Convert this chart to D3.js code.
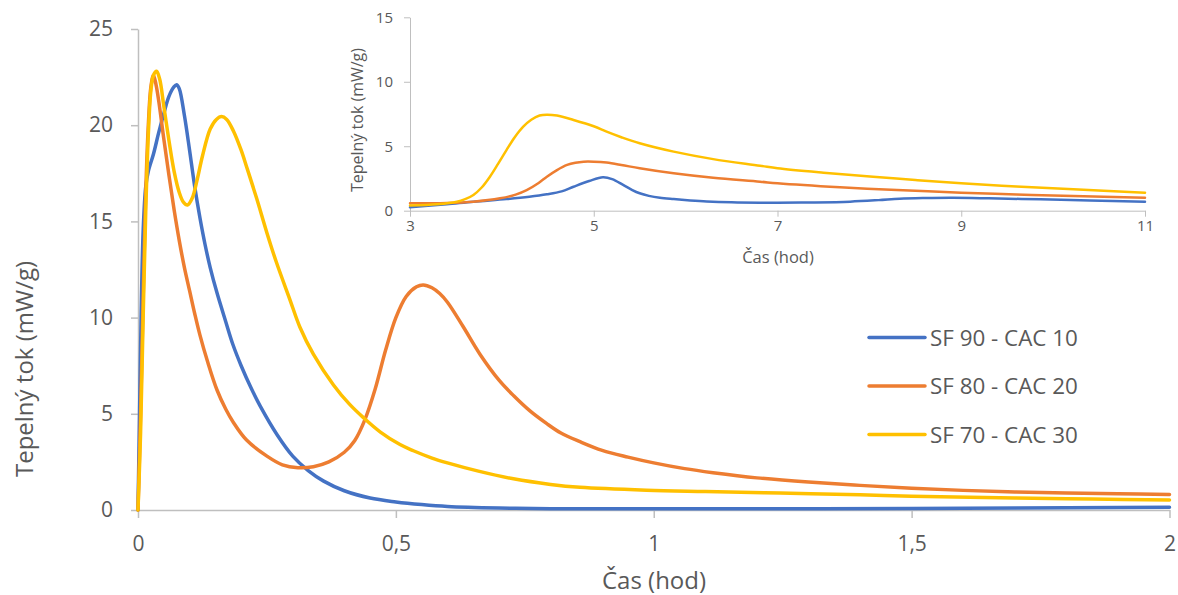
<!DOCTYPE html>
<html><head><meta charset="utf-8">
<script src="https://cdn.jsdelivr.net/npm/d3@7"></script>
<style>body{margin:0;background:#fff;} svg{display:block;font-family:"Open Sans","Noto Sans",sans-serif;}</style>
</head><body><svg id="c" width="1178" height="595"></svg>
<script>
const seriesNames = ["SF 90 - CAC 10", "SF 80 - CAC 20", "SF 70 - CAC 30"];
const colors = ["#4472C4", "#ED7D31", "#FFC000"];

// main chart: time (h) and heat flow (mW/g)
const blueT  = [0,0.003,0.006,0.01,0.015,0.02,0.03,0.04,0.05,0.06,0.07,0.075,0.08,0.09,0.1,0.11,0.12,0.13,0.14,0.153,0.17,0.184,0.2,0.22,0.237,0.27,0.3,0.33,0.36,0.4,0.45,0.5,0.55,0.6,0.7,0.8,1.0,1.5,2.0];
const blueV  = [0,5,10,14.5,16.8,17.6,18.5,19.6,20.6,21.5,22.0,22.1,21.9,20.5,18.7,16.8,15.2,13.8,12.6,11.3,9.8,8.6,7.5,6.3,5.4,3.9,2.8,2.05,1.5,1.0,0.62,0.42,0.28,0.18,0.1,0.07,0.06,0.08,0.14];
const orangeT = [0,0.005,0.01,0.015,0.02,0.025,0.03,0.035,0.04,0.05,0.06,0.07,0.08,0.09,0.1,0.11,0.12,0.135,0.153,0.17,0.185,0.21,0.25,0.28,0.31,0.34,0.37,0.4,0.42,0.44,0.46,0.48,0.5,0.52,0.54,0.553,0.57,0.585,0.6,0.63,0.663,0.7,0.728,0.76,0.792,0.82,0.857,0.9,0.95,1.0,1.06,1.115,1.2,1.3,1.4,1.5,1.6,1.7,1.8,1.9,2.0];
const orangeV = [0,5,11,16.5,20,22,22.6,22.1,21.3,19.3,17.4,15.6,14.0,12.6,11.4,10.2,9.1,7.7,6.25,5.25,4.55,3.65,2.8,2.35,2.2,2.25,2.5,3.0,3.6,4.7,6.3,8.3,10.0,11.1,11.6,11.7,11.55,11.25,10.8,9.55,8.1,6.75,5.95,5.15,4.5,4.0,3.55,3.1,2.75,2.45,2.15,1.94,1.67,1.45,1.28,1.13,1.02,0.94,0.88,0.84,0.81];
const yellowT = [0,0.005,0.01,0.015,0.02,0.025,0.03,0.036,0.042,0.05,0.06,0.07,0.08,0.088,0.096,0.105,0.115,0.125,0.14,0.152,0.162,0.172,0.185,0.2,0.211,0.23,0.25,0.268,0.295,0.314,0.34,0.379,0.41,0.437,0.47,0.508,0.534,0.57,0.6,0.66,0.728,0.8,0.857,0.986,1.1,1.245,1.4,1.5,1.7,1.85,2.0];
const yellowV = [0,4,10,15.5,19.5,21.8,22.6,22.8,22.4,21.0,19.2,17.6,16.5,16.0,15.85,16.2,17.2,18.4,19.8,20.3,20.45,20.3,19.7,18.7,17.8,16.2,14.4,12.9,10.9,9.5,8.1,6.5,5.5,4.8,4.05,3.4,3.08,2.7,2.45,2.02,1.62,1.33,1.18,1.03,0.96,0.88,0.79,0.72,0.63,0.57,0.52];

const xTicks = [0, 0.5, 1, 1.5, 2];
const xTickLabels = ["0", "0,5", "1", "1,5", "2"];
const yTicks = [0, 5, 10, 15, 20, 25];

// inset chart: 3 - 11 h
const insetBlueT = [3,3.4,3.69,4.05,4.3,4.49,4.65,4.78,4.95,5.1,5.2,5.32,5.42,5.5,5.6,5.72,5.87,6.05,6.23,6.5,6.81,7.0,7.4,7.79,8.1,8.33,8.6,8.91,9.3,9.86,10.4,11];
const insetBlueV = [0.26,0.5,0.7,0.9,1.08,1.27,1.5,1.86,2.3,2.59,2.45,2.0,1.6,1.35,1.15,1.0,0.9,0.8,0.72,0.65,0.62,0.62,0.64,0.7,0.82,0.93,0.98,1.0,0.96,0.88,0.8,0.7];
const insetOrangeT = [3,3.4,3.69,3.98,4.15,4.27,4.4,4.49,4.6,4.71,4.8,4.89,5.0,5.14,5.3,5.5,5.87,6.3,6.81,7.0,7.68,8.3,9.0,9.6,10.22,11];
const insetOrangeV = [0.57,0.6,0.7,0.96,1.25,1.6,2.15,2.64,3.15,3.55,3.72,3.8,3.8,3.73,3.55,3.29,2.9,2.55,2.25,2.12,1.81,1.6,1.4,1.26,1.14,1.0];
const insetYellowT = [3,3.3,3.51,3.6,3.69,3.78,3.87,3.96,4.05,4.14,4.23,4.32,4.41,4.49,4.6,4.78,5.0,5.14,5.3,5.5,5.87,6.3,6.81,7.0,7.5,8.04,8.5,9.0,9.6,10.22,11];
const insetYellowV = [0.4,0.5,0.7,0.9,1.22,1.8,2.64,3.65,4.7,5.7,6.5,7.05,7.38,7.45,7.38,7.04,6.55,6.13,5.7,5.23,4.58,4.0,3.49,3.29,2.95,2.64,2.38,2.12,1.88,1.66,1.4];

const insetXTicks = [3, 5, 7, 9, 11];
const insetYTicks = [0, 5, 10, 15];

const svg = d3.select("#c");
const axisColor = "#BFBFBF", textColor = "#595959";
const font = '"Open Sans","Noto Sans",sans-serif';

function zip(t, v){ return t.map((d,i)=>[d, v[i]]); }

// ---------- main chart ----------
const x = d3.scaleLinear().domain([0, 2]).range([138, 1169.5]);
const y = d3.scaleLinear().domain([0, 25]).range([510, 29]);

const gx = svg.append("g").attr("transform", `translate(0,${y(0)})`)
  .call(d3.axisBottom(x).tickValues(xTicks).tickFormat((d,i)=>xTickLabels[i]).tickSize(8).tickSizeOuter(0).tickPadding(18));
const gy = svg.append("g").attr("transform", `translate(${x(0)},0)`)
  .call(d3.axisLeft(y).tickValues(yTicks).tickSize(7).tickSizeOuter(0).tickPadding(18));
[gx, gy].forEach(g=>{
  g.selectAll("path,line").attr("stroke", axisColor).attr("stroke-width", 1.5);
  g.selectAll("text").attr("fill", textColor).attr("font-size", 21).attr("font-family", font);
});

const line = d3.line().x(d=>x(d[0])).y(d=>y(d[1])).curve(d3.curveCatmullRom.alpha(0.5));
const mainData = [zip(blueT, blueV), zip(orangeT, orangeV), zip(yellowT, yellowV)];
mainData.forEach((d,i)=>{
  svg.append("path").datum(d).attr("d", line).attr("fill","none")
    .attr("stroke", colors[i]).attr("stroke-width", 3.5).attr("stroke-linejoin","round").attr("stroke-linecap","round");
});

svg.append("text").attr("x", 654).attr("y", 589).attr("text-anchor","middle")
  .attr("fill", textColor).attr("font-size", 24).text("Čas (hod)");
svg.append("text").attr("transform", "translate(33,369) rotate(-90)").attr("text-anchor","middle")
  .attr("fill", textColor).attr("font-size", 24).text("Tepelný tok (mW/g)");

// legend
seriesNames.forEach((n,i)=>{
  const ly = 337.5 + i*48.5;
  svg.append("line").attr("x1", 869).attr("x2", 925).attr("y1", ly).attr("y2", ly)
    .attr("stroke", colors[i]).attr("stroke-width", 3.5).attr("stroke-linecap","round");
  svg.append("text").attr("x", 930).attr("y", ly+8).attr("fill", textColor).attr("font-size", 22.4).text(n);
});

// ---------- inset ----------
const xi = d3.scaleLinear().domain([3, 11]).range([410, 1145]);
const yi = d3.scaleLinear().domain([0, 15]).range([210.7, 17.3]);
const gxi = svg.append("g").attr("transform", `translate(0,${yi(0)})`)
  .call(d3.axisBottom(xi).tickValues(insetXTicks).tickSize(6).tickSizeOuter(0).tickPadding(4));
const gyi = svg.append("g").attr("transform", `translate(${xi(3)},0)`)
  .call(d3.axisLeft(yi).tickValues(insetYTicks).tickSize(6).tickSizeOuter(0).tickPadding(11));
[gxi, gyi].forEach(g=>{
  g.selectAll("path,line").attr("stroke", axisColor).attr("stroke-width", 1);
  g.selectAll("text").attr("fill", textColor).attr("font-size", 15).attr("font-family", font);
});
const linei = d3.line().x(d=>xi(d[0])).y(d=>yi(d[1])).curve(d3.curveCatmullRom.alpha(0.5));
const insetData = [zip(insetBlueT, insetBlueV), zip(insetOrangeT, insetOrangeV), zip(insetYellowT, insetYellowV)];
insetData.forEach((d,i)=>{
  svg.append("path").datum(d).attr("d", linei).attr("fill","none")
    .attr("stroke", colors[i]).attr("stroke-width", 2.5).attr("stroke-linejoin","round").attr("stroke-linecap","round");
});
svg.append("text").attr("x", 778).attr("y", 263).attr("text-anchor","middle")
  .attr("fill", textColor).attr("font-size", 16.5).text("Čas (hod)");
svg.append("text").attr("transform", "translate(363,120) rotate(-90)").attr("text-anchor","middle")
  .attr("fill", textColor).attr("font-size", 16).text("Tepelný tok (mW/g)");
</script></body></html>
